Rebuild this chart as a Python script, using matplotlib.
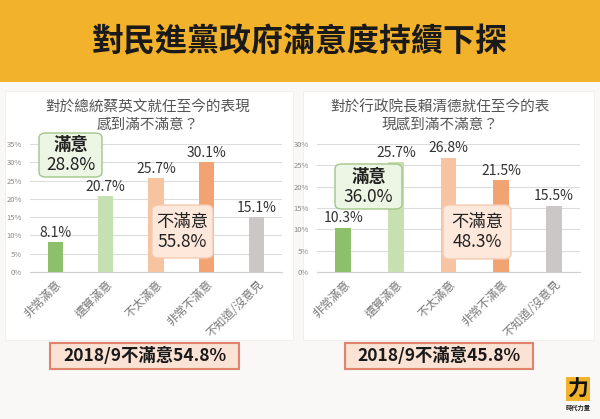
import matplotlib
matplotlib.use('Agg')
import matplotlib.pyplot as plt
from matplotlib.patches import FancyBboxPatch, Rectangle
from matplotlib.ticker import PercentFormatter

plt.rcParams['font.family'] = ['Noto Sans CJK TC', 'DejaVu Sans']

TITLE = '對民進黨政府滿意度持續下探'
CATEGORIES = ['非常滿意', '還算滿意', '不太滿意', '非常不滿意', '不知道/沒意見']
TSAI_VALUES = [8.1, 20.7, 25.7, 30.1, 15.1]
LAI_VALUES = [10.3, 25.7, 26.8, 21.5, 15.5]
TSAI_TITLE = '對於總統蔡英文就任至今的表現\n感到滿不滿意？'
LAI_TITLE = '對於行政院長賴清德就任至今的表\n現感到滿不滿意？'
BOX_WORDS = ['滿意', '不滿意']
TSAI_SUMMARY = ['28.8%', '55.8%', '2018/9不滿意54.8%']
LAI_SUMMARY = ['36.0%', '48.3%', '2018/9不滿意45.8%']

BAR_COLORS = ['#8cc06b', '#c6e0b2', '#f7c4a2', '#f2a372', '#cbc7c7']
W, H = 600, 419


def px_box(x0, y0, x1, y1):
    # pixel coords (top-left origin) -> figure fraction rect
    return [x0 / W, 1 - y1 / H, (x1 - x0) / W, (y1 - y0) / H]


def rounded_box(fig, x0, y0, x1, y1, word, number, fc, ec, word_weight):
    r = FancyBboxPatch((x0 / W, 1 - y1 / H), (x1 - x0) / W, (y1 - y0) / H,
                       boxstyle='round,pad=0,rounding_size=%f' % (7 / W),
                       transform=fig.transFigure, fc=fc, ec=ec, lw=1.0, zorder=5)
    fig.patches.append(r)
    xc = (x0 + x1) / 2 / W
    ym = (y0 + y1) / 2
    fig.text(xc, 1 - (ym - 10) / H, word, ha='center', va='center',
             fontsize=12.5, color='#222222', weight=word_weight, zorder=6)
    fig.text(xc, 1 - (ym + 10) / H, number, ha='center', va='center',
             fontsize=12.5, color='#222222', zorder=6)


def draw_panel(fig, rect, values, ymax, title, title_xy):
    ax = fig.add_axes(rect, zorder=2)
    x = range(len(values))
    ax.bar(x, [v / 100 for v in values], width=0.3, color=BAR_COLORS, zorder=3)
    for i, v in enumerate(values):
        ax.text(i, v / 100 + 0.006, '%.1f%%' % v, ha='center', va='bottom',
                fontsize=10, color='#333333', zorder=4)
    ax.set_xlim(-0.5, len(values) - 0.5)
    ax.set_ylim(0, ymax)
    ax.set_yticks([i / 100 for i in range(0, int(round(ymax * 100)) + 1, 5)])
    ax.yaxis.set_major_formatter(PercentFormatter(1.0, decimals=0))
    ax.grid(axis='y', color='#dcdcdc', lw=0.8, zorder=0)
    for s in ['top', 'right', 'left']:
        ax.spines[s].set_visible(False)
    ax.spines['bottom'].set_color('#d0d0d0')
    ax.tick_params(axis='y', length=0, labelsize=5.5, labelcolor='#8a8a8a', pad=6)
    ax.tick_params(axis='x', length=0, labelsize=8.5, labelcolor='#7a7a7a', pad=4)
    ax.set_xticks(list(x))
    ax.set_xticklabels(CATEGORIES, rotation=45, ha='right', rotation_mode='anchor')
    ax.set_facecolor('none')
    fig.text(title_xy[0] / W, 1 - title_xy[1] / H, title, ha='center', va='center',
             fontsize=10.5, color='#555555', linespacing=1.3)
    return ax


fig = plt.figure(figsize=(6, 4.19), dpi=100)
fig.patch.set_facecolor('#f9f8f6')

# header band
fig.patches.append(Rectangle((0, 1 - 82 / H), 1, 82 / H, transform=fig.transFigure,
                             fc='#f2b22c', ec='none', zorder=-2))
fig.text(0.5, 1 - 42 / H, TITLE, ha='center', va='center', fontsize=23,
         weight='heavy', color='#1a1a1a')

# white panels
for x0, x1 in [(5, 293), (303, 594)]:
    fig.patches.append(Rectangle((x0 / W, 1 - 340 / H), (x1 - x0) / W, (340 - 91) / H,
                                 transform=fig.transFigure, fc='white', ec='#efefef',
                                 lw=0.6, zorder=-2))

draw_panel(fig, px_box(30, 144, 282, 272), TSAI_VALUES, 0.35, TSAI_TITLE, (148, 116))
draw_panel(fig, px_box(317, 144, 580, 272), LAI_VALUES, 0.30, LAI_TITLE, (440, 116))

# summary boxes
green_fc, green_ec = '#edf5e5', '#a2c589'
peach_fc, peach_ec = '#fde8db', '#f5cbb0'
rounded_box(fig, 39, 133, 102, 177, BOX_WORDS[0], TSAI_SUMMARY[0], green_fc, green_ec, 'bold')
rounded_box(fig, 152, 205, 213, 258, BOX_WORDS[1], TSAI_SUMMARY[1], peach_fc, peach_ec, 'medium')
rounded_box(fig, 335, 164, 402, 209, BOX_WORDS[0], LAI_SUMMARY[0], green_fc, green_ec, 'bold')
rounded_box(fig, 443, 205, 511, 259, BOX_WORDS[1], LAI_SUMMARY[1], peach_fc, peach_ec, 'medium')

# 2018/9 comparison boxes
for (x0, x1), txt in [((50, 239), TSAI_SUMMARY[2]), ((345, 533), LAI_SUMMARY[2])]:
    fig.patches.append(Rectangle((x0 / W, 1 - 369 / H), (x1 - x0) / W, 26 / H,
                                 transform=fig.transFigure, fc='#fae2d4', ec='#e0836c',
                                 lw=1.5, zorder=5))
    fig.text((x0 + x1) / 2 / W, 1 - 356 / H, txt, ha='center', va='center',
             fontsize=12.5, weight='bold', color='#1a1a1a', zorder=6)

# logo
fig.patches.append(Rectangle((566 / W, 1 - 401 / H), 24 / W, 24 / H,
                             transform=fig.transFigure, fc='#f2b22c', ec='none', zorder=5))
fig.text(578 / W, 1 - 389 / H, '力', ha='center', va='center', fontsize=15,
         weight='bold', color='#111111', style='italic', zorder=6)
fig.text(578 / W, 1 - 407 / H, '時代力量', ha='center', va='center', fontsize=4.5,
         weight='bold', color='#222222')

fig.savefig('out.png', dpi=100, facecolor=fig.get_facecolor())
